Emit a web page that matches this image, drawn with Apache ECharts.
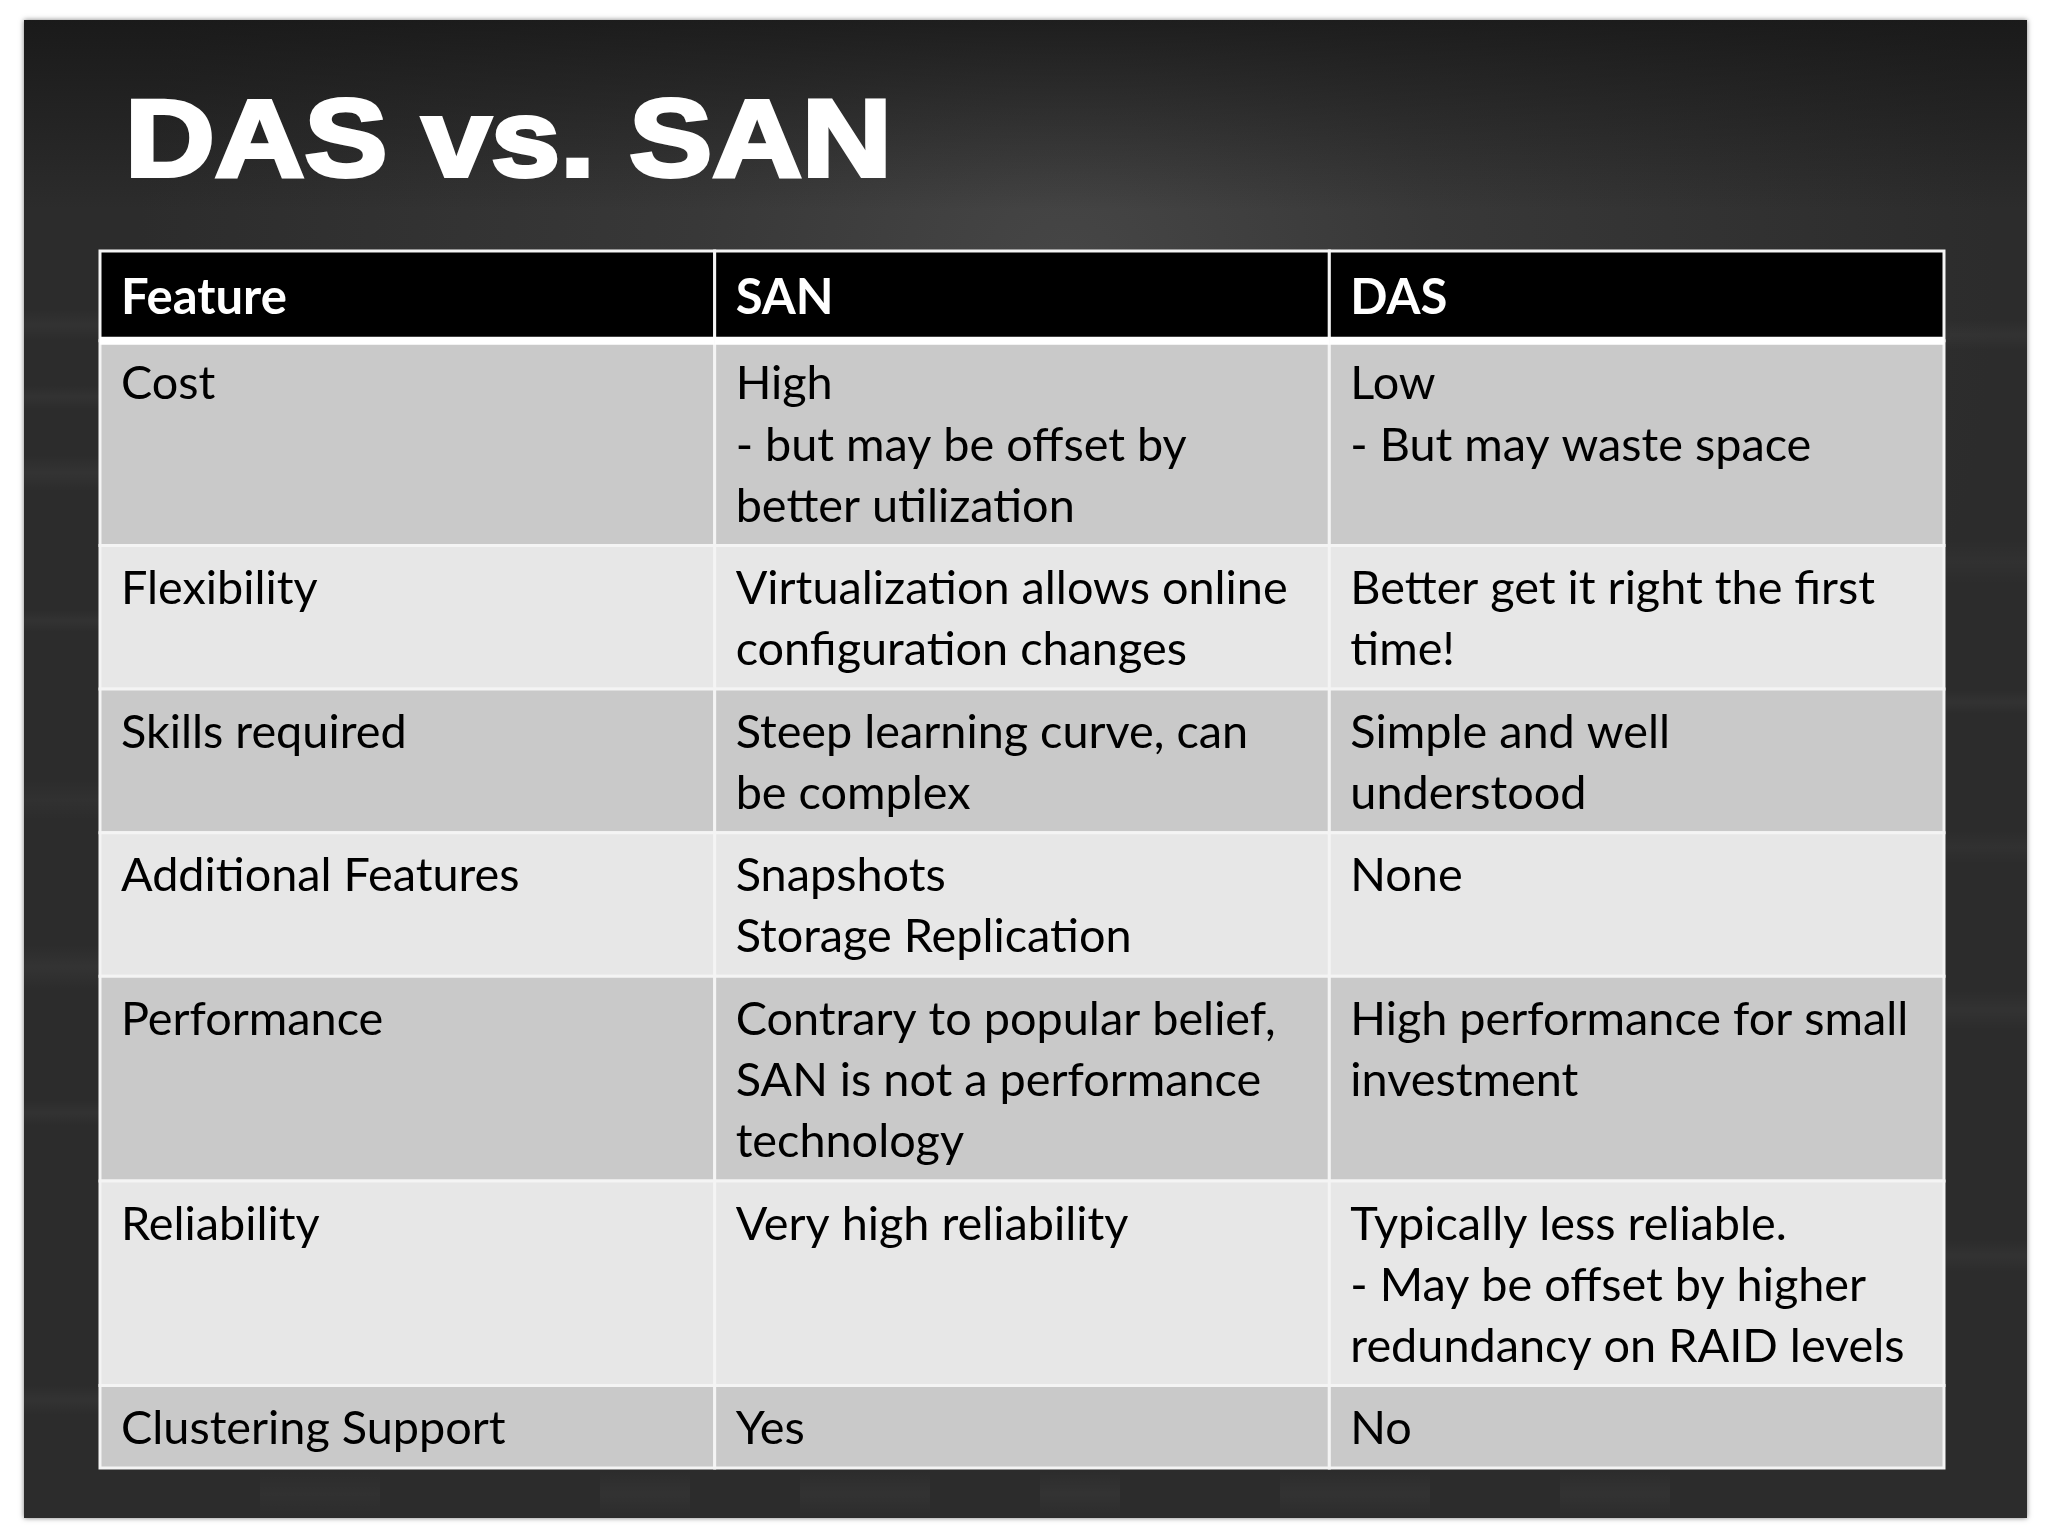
<!DOCTYPE html>
<html>
<head>
<meta charset="utf-8">
<title>DAS vs. SAN</title>
<script src="https://cdn.jsdelivr.net/npm/echarts@6/dist/echarts.min.js"></script>
<style>
html,body{margin:0;padding:0;background:#fff;}
#chart{width:2048px;height:1536px;}
</style>
</head>
<body>
<div id="chart"></div>
<script>
var titleText = 'DAS vs. SAN';
var headers = ['Feature', 'SAN', 'DAS'];
var features = ['Cost', 'Flexibility', 'Skills required', 'Additional Features', 'Performance', 'Reliability', 'Clustering Support'];
var sanValues = [
	'High\n- but may be offset by\nbetter utilization',
	'Virtualization allows online\nconfiguration changes',
	'Steep learning curve, can\nbe complex',
	'Snapshots\nStorage Replication',
	'Contrary to popular belief,\nSAN is not a performance\ntechnology',
	'Very high reliability',
	'Yes'
];
var dasValues = [
	'Low\n- But may waste space',
	'Better get it right the first\ntime!',
	'Simple and well\nunderstood',
	'None',
	'High performance for small\ninvestment',
	'Typically less reliable.\n- May be offset by higher\nredundancy on RAID levels',
	'No'
];

var LINE_PX = 61.1;
var HEADER_SPAN = 1.47;
var ROW_PAD = 0.349;
var FONT_BODY = 'Lato, "Noto Sans", sans-serif';

function lineCount(i){
	return Math.max(sanValues[i].split('\n').length, dasValues[i].split('\n').length);
}

// one item per cell : col, top, bottom, text, row (-1 is the header)
var cells = [];
headers.forEach(function(h, c){
	cells.push([c, 0, HEADER_SPAN, h, -1]);
});
var rowTop = HEADER_SPAN;
features.forEach(function(f, i){
	var bottom = rowTop + lineCount(i) + ROW_PAD;
	[f, sanValues[i], dasValues[i]].forEach(function(t, c){
		cells.push([c, rowTop, bottom, t, i]);
	});
	rowTop = bottom;
});
var totalSpan = rowTop;

function renderCell(params, api){
	var col = api.value(0), row = api.value(4);
	var text = cells[params.dataIndex][3];
	var p0 = api.coord([col, api.value(1)]);
	var p1 = api.coord([col + 1, api.value(2)]);
	var isHead = row < 0;
	var fill = isHead ? '#000000' : (row % 2 === 0 ? '#c9c9c9' : '#e7e7e7');
	var children = [{
		type: 'rect',
		shape: {x: p0[0], y: p0[1], width: p1[0] - p0[0], height: p1[1] - p0[1]},
		style: {fill: fill, stroke: '#f4f4f4', lineWidth: 3}
	}, {
		type: 'text',
		x: p0[0] + 21,
		y: isHead ? p0[1] + 47 : p0[1] + 13,
		style: {
			text: text,
			fill: isHead ? '#ffffff' : '#000000',
			font: (isHead ? 'bold 49px ' : '46.8px ') + FONT_BODY,
			lineHeight: LINE_PX,
			verticalAlign: isHead ? 'middle' : 'top',
			align: 'left'
		},
		z2: 5
	}];
	if(isHead){
		// thick white rule under the header
		children.push({
			type: 'rect',
			shape: {x: p0[0], y: p1[1] - 4, width: p1[0] - p0[0], height: 8},
			style: {fill: '#ffffff'},
			z2: 10,
			zlevel: 1
		});
	}
	return {type: 'group', children: children};
}

// faint chalk smears along the margins, fading out at both ends
function smear(x, y, w, h, a){
	var alongX = w > h;
	return {
		type: 'rect',
		z: -9,
		silent: true,
		shape: {x: x, y: y, width: w, height: h},
		style: {
			fill: {
				type: 'linear', x: 0, y: 0, x2: alongX ? 0 : 1, y2: alongX ? 1 : 0,
				colorStops: [
					{offset: 0, color: 'rgba(255,255,255,0)'},
					{offset: 0.5, color: 'rgba(255,255,255,' + a + ')'},
					{offset: 1, color: 'rgba(255,255,255,0)'}
				]
			}
		}
	};
}
var smears = [
	smear(24, 310, 76, 30, 0.03), smear(24, 385, 76, 24, 0.03), smear(24, 455, 76, 36, 0.035),
	smear(24, 610, 76, 22, 0.03), smear(24, 780, 76, 40, 0.025), smear(24, 945, 76, 44, 0.035),
	smear(24, 1100, 76, 26, 0.03), smear(24, 1385, 76, 30, 0.03),
	smear(1946, 320, 81, 30, 0.03), smear(1946, 540, 81, 44, 0.025), smear(1946, 690, 81, 24, 0.03),
	smear(1946, 830, 81, 34, 0.025), smear(1946, 990, 81, 40, 0.03), smear(1946, 1240, 81, 32, 0.03),
	smear(600, 1470, 90, 48, 0.03), smear(800, 1470, 130, 48, 0.03), smear(1040, 1470, 80, 48, 0.035),
	smear(1280, 1470, 150, 48, 0.03), smear(1560, 1470, 110, 48, 0.03), smear(260, 1470, 120, 48, 0.025)
];

var chart = echarts.init(document.getElementById('chart'));
chart.setOption({
	animation: false,
	backgroundColor: '#ffffff',
	graphic: [{
		type: 'rect',
		z: -10,
		silent: true,
		shape: {x: 24, y: 20, width: 2003, height: 1498},
		style: {
			fill: {
				type: 'radial', x: 0.52, y: 0.17, r: 0.62,
				colorStops: [{offset: 0, color: '#464646'}, {offset: 0.4, color: '#383838'}, {offset: 1, color: '#2c2c2c'}]
			},
			shadowBlur: 5, shadowColor: 'rgba(0,0,0,0.5)'
		}
	}, {
		// darker towards the top edge
		type: 'rect',
		z: -9,
		silent: true,
		shape: {x: 24, y: 20, width: 2003, height: 190},
		style: {
			fill: {
				type: 'linear', x: 0, y: 0, x2: 0, y2: 1,
				colorStops: [{offset: 0, color: 'rgba(20,20,20,0.75)'}, {offset: 1, color: 'rgba(20,20,20,0)'}]
			}
		}
	}, {
		type: 'text',
		z: 5,
		x: 125,
		y: 91,
		scaleX: 1.13,
		style: {
			text: titleText,
			fill: '#ffffff',
			stroke: '#ffffff',
			lineWidth: 4,
			font: 'bold 110px "Liberation Sans", Arial, sans-serif',
			verticalAlign: 'top'
		}
	}].concat(smears),
	grid: {left: 100, top: 251, width: 1844, height: 1217, containLabel: false},
	xAxis: {type: 'value', min: 0, max: 3, show: false},
	yAxis: {type: 'value', min: 0, max: totalSpan, inverse: true, show: false},
	series: [{
		type: 'custom',
		coordinateSystem: 'cartesian2d',
		renderItem: renderCell,
		silent: true,
		clip: false,
		encode: {x: 0, y: [1, 2]},
		data: cells.map(function(c){ return [c[0], c[1], c[2], 0, c[4]]; })
	}]
});
</script>
</body>
</html>
